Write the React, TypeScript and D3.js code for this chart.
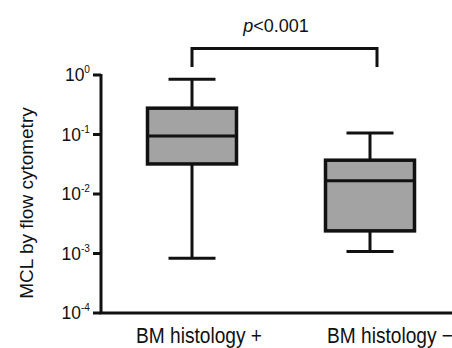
import React from "react";
import * as d3 from "d3";

// groups and box statistics
const groups = ["BM histology +", "BM histology −"];
const whiskerHigh = [0.85, 0.106];
const q3 = [0.277, 0.037];
const medians = [0.094, 0.0167];
const q1 = [0.032, 0.0024];
const whiskerLow = [0.00083, 0.00108];
const tickExps = [0, -1, -2, -3, -4];
const labelShift = [7, 20];

const W = 452;
const H = 348;
const FONT = "'Liberation Sans', Arial, Helvetica, sans-serif";

const App = () => {
  const y = d3.scaleLog().domain([1e-4, 1]).range([313, 75]);
  const x = d3.scalePoint<string>().domain(groups).range([103, 459]).padding(0.5);
  const boxW = x.step() * 0.5;
  const capW = 47;
  const axisX = 101;

  const boxes = groups.map((g, i) => ({
    g,
    cx: x(g) as number,
    hi: whiskerHigh[i],
    q3: q3[i],
    med: medians[i],
    q1: q1[i],
    lo: whiskerLow[i],
  }));

  const bx = boxes[0].cx;
  const bx2 = boxes[1].cx + 7;

  return (
    <svg width={W} height={H} style={{ position: "absolute", left: 0, top: 0 }}>
      <rect width={W} height={H} fill="#fff" />
      {/* significance bracket */}
      <path
        d={`M${bx},67V48.5H${bx2}V67`}
        fill="none"
        stroke="#111"
        strokeWidth={3}
      />
      <text x={276} y={32} textAnchor="middle" fontFamily={FONT} fontSize={18} fill="#111">
        <tspan fontStyle="italic">p</tspan>&lt;0.001
      </text>

      {/* boxes */}
      {boxes.map((b) => (
        <g key={b.g} stroke="#111" strokeWidth={3}>
          <line x1={b.cx} x2={b.cx} y1={y(b.hi)} y2={y(b.q3)} />
          <line x1={b.cx} x2={b.cx} y1={y(b.q1)} y2={y(b.lo)} />
          <line x1={b.cx - capW / 2} x2={b.cx + capW / 2} y1={y(b.hi)} y2={y(b.hi)} />
          <line x1={b.cx - capW / 2} x2={b.cx + capW / 2} y1={y(b.lo)} y2={y(b.lo)} />
          <rect
            x={b.cx - boxW / 2}
            y={y(b.q3)}
            width={boxW}
            height={y(b.q1) - y(b.q3)}
            fill="#a3a3a3"
            strokeWidth={3.5}
          />
          <line x1={b.cx - boxW / 2} x2={b.cx + boxW / 2} y1={y(b.med)} y2={y(b.med)} />
        </g>
      ))}

      {/* axes */}
      <path d={`M${axisX},${y(1) - 1}V${y(1e-4)}H${W}`} fill="none" stroke="#111" strokeWidth={3} />
      {tickExps.map((e) => (
        <g key={e}>
          <line x1={axisX - 8} x2={axisX} y1={y(Math.pow(10, e))} y2={y(Math.pow(10, e))} stroke="#111" strokeWidth={3} />
          <text
            transform={`translate(${axisX - 11},${y(Math.pow(10, e)) + 6}) scale(0.92,1)`}
            textAnchor="end"
            fontFamily={FONT}
            fontSize={19}
            fill="#111"
          >
            10
            <tspan fontSize={11} dy={-8}>
              {e === 0 ? "0" : "-" + -e}
            </tspan>
          </text>
        </g>
      ))}
      {boxes.map((b, i) => (
        <text
          key={b.g}
          transform={`translate(${b.cx + labelShift[i]},343) scale(0.87,1)`}
          textAnchor="middle"
          fontFamily={FONT}
          fontSize={22}
          fill="#111"
        >
          {b.g}
        </text>
      ))}
      <text
        transform={`translate(33,203) rotate(-90)`}
        textAnchor="middle"
        fontFamily={FONT}
        fontSize={19}
        fill="#111"
      >
        MCL by flow cytometry
      </text>
    </svg>
  );
};

export default App;
